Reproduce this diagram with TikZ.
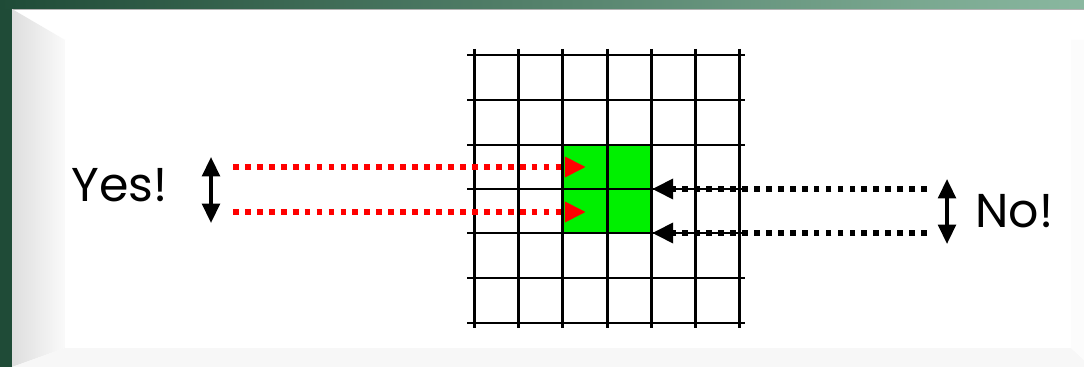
\documentclass[tikz,border=0pt]{standalone}
\usepackage{fontspec}
\setmainfont{Poppins}
\usetikzlibrary{arrows.meta}
\definecolor{frameA}{HTML}{1F4B37}
\definecolor{frameB}{HTML}{8AB8A0}
\definecolor{cellgreen}{HTML}{00F000}
\tikzset{
  gridline/.style={line width=1.7pt, black},
  reddots/.style={red, line width=3.4pt, dash pattern=on 3.3pt off 3.5pt, -{Triangle[length=12pt,width=11pt]}},
  blackdots/.style={black, line width=3.4pt, dash pattern=on 3.3pt off 3.5pt, -{Triangle[length=12pt,width=11pt]}},
  dbl/.style={black, line width=2pt, {Triangle[length=11pt,width=10pt]}-{Triangle[length=11pt,width=10pt]}},
  label/.style={font=\fontsize{27}{27}\selectfont, inner sep=0pt}
}
\begin{document}
\begin{tikzpicture}[x=0.02cm,y=-0.02cm]
\useasboundingbox (0,0) rectangle (1084,367);
% frame
\fill[frameA] (0,0) rectangle (1084,367);
\shade[left color=frameA, right color=frameB] (0,0) rectangle (1084,9);
\fill[white] (12,9) rectangle (1084,367);
\draw[gray!60, line width=0.4pt] (12,9) -- (1084,9);
\shade[left color=black!13, right color=black!2] (12,9) -- (65,40) -- (65,348) -- (12,367) -- cycle;
\fill[black!3] (12,367) -- (65,348) -- (1071,348) -- (1084,360) -- (1084,367) -- cycle;
\fill[black!1] (1071,40) -- (1084,40) -- (1084,360) -- (1071,348) -- cycle;
\fill[white] (65,40) rectangle (1071,348);
% green cells
\fill[cellgreen] (562,145) rectangle (651,233);
% grid
\foreach \x in {474,518,562,607,651,695,739} \draw[gridline] (\x,49) -- (\x,328);
\foreach \y in {55,100,145,189,233,278,323} \draw[gridline] (467,\y) -- (745,\y);
% arrow end points
\coordinate (r1s) at (233,167); \coordinate (r1e) at (586,167);
\coordinate (r2s) at (233,212); \coordinate (r2e) at (586,212);
\coordinate (b1s) at (927,189); \coordinate (b1e) at (652,189);
\coordinate (b2s) at (927,233); \coordinate (b2e) at (652,233);
\draw[reddots] (r1s) -- (r1e);
\draw[reddots] (r2s) -- (r2e);
\draw[blackdots] (b1s) -- (b1e);
\draw[blackdots] (b2s) -- (b2e);
% double arrows
\coordinate (yt) at (211,157); \coordinate (yb) at (211,223);
\coordinate (nt) at (947,179); \coordinate (nb) at (947,244);
\draw[dbl] (yt) -- (yb);
\draw[dbl] (nt) -- (nb);
% labels
\node[label, anchor=base west] (yes) at (71,202) {Yes!};
\node[label, anchor=base west] (no) at (975,228) {No!};
\end{tikzpicture}
\end{document}
